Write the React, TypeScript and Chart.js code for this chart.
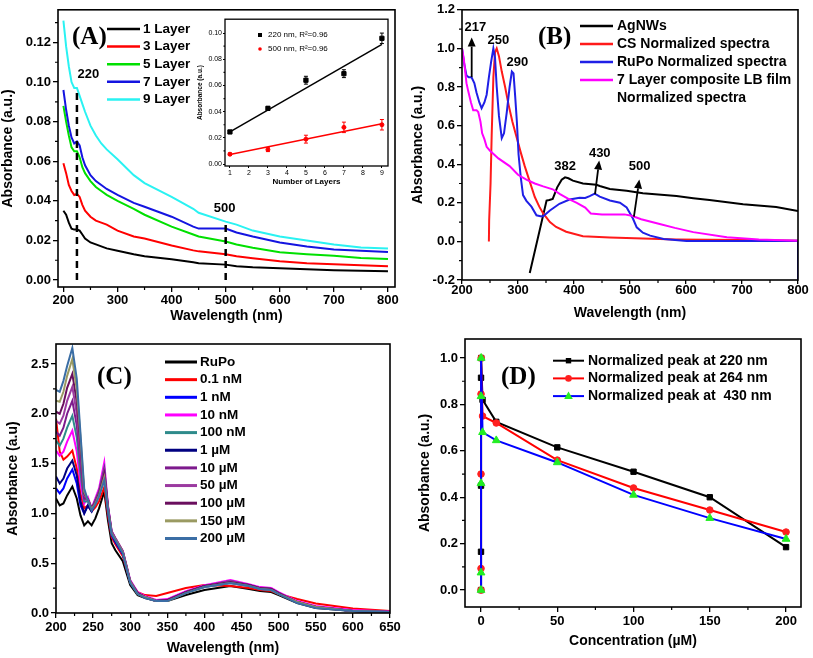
import React, { useEffect, useRef } from 'react';
import { Chart, registerables } from 'chart.js';
Chart.register(...registerables);

const FONT = "'Liberation Sans', Arial, sans-serif";
const SERIF = "'Liberation Serif', 'Times New Roman', serif";

// ---------------- Panel A ----------------
const A_LABELS = ['1 Layer', '3 Layer', '5 Layer', '7 Layer', '9 Layer'];
const A_COLORS = ['#000000', '#ff0000', '#00e000', '#1414e0', '#2af2f2'];
const WL_A = [200, 205, 210, 215, 220, 225, 230, 235, 240, 250, 260, 270, 280, 300, 330, 350, 400, 440, 450, 500, 520, 550, 600, 650, 700, 750, 800];
const A_L1 = [0.035, 0.033, 0.029, 0.026, 0.0255, 0.0255, 0.025, 0.023, 0.021, 0.019, 0.018, 0.017, 0.016, 0.0148, 0.013, 0.012, 0.0105, 0.009, 0.0085, 0.0078, 0.007, 0.0065, 0.006, 0.0055, 0.005, 0.0047, 0.0045];
const A_L3 = [0.059, 0.054, 0.048, 0.045, 0.043, 0.0435, 0.042, 0.038, 0.035, 0.032, 0.030, 0.029, 0.028, 0.025, 0.022, 0.021, 0.0175, 0.015, 0.0145, 0.013, 0.012, 0.011, 0.0095, 0.0085, 0.008, 0.0075, 0.007];
const A_L5 = [0.088, 0.080, 0.073, 0.067, 0.065, 0.065, 0.062, 0.057, 0.054, 0.050, 0.047, 0.045, 0.043, 0.040, 0.036, 0.033, 0.027, 0.023, 0.022, 0.0195, 0.018, 0.0163, 0.014, 0.013, 0.0123, 0.0112, 0.0107];
const A_L7 = [0.096, 0.086, 0.078, 0.072, 0.069, 0.070, 0.068, 0.062, 0.058, 0.053, 0.050, 0.048, 0.046, 0.043, 0.039, 0.037, 0.032, 0.027, 0.026, 0.026, 0.024, 0.022, 0.019, 0.017, 0.0155, 0.0148, 0.0142];
const A_L9 = [0.131, 0.118, 0.108, 0.100, 0.097, 0.097, 0.093, 0.089, 0.085, 0.078, 0.073, 0.069, 0.066, 0.061, 0.053, 0.049, 0.042, 0.036, 0.034, 0.0295, 0.028, 0.025, 0.022, 0.020, 0.018, 0.0165, 0.016];
const A_SERIES = [A_L1, A_L3, A_L5, A_L7, A_L9];
const A_MARK_X = [225, 500];
const A_MARK_TOP = [0.097, 0.029];
const A_NOTE_TEXT = ['220', '500'];
const A_NOTE_X = [246, 498];
const A_NOTE_Y = [0.104, 0.036];
const A_XTICKS = [200, 300, 400, 500, 600, 700, 800];
const A_XMINOR = [250, 350, 450, 550, 650, 750];
const A_YTICKS = [0, 0.02, 0.04, 0.06, 0.08, 0.10, 0.12];
const A_YMINOR = [0.01, 0.03, 0.05, 0.07, 0.09, 0.11, 0.13];

// ---------------- Inset ----------------
const IN_LAYERS = [1, 3, 5, 7, 9];
const IN_220 = [0.0245, 0.0425, 0.064, 0.069, 0.096];
const IN_220_ERR = [0.001, 0.0015, 0.003, 0.003, 0.004];
const IN_500 = [0.0075, 0.011, 0.019, 0.028, 0.030];
const IN_500_ERR = [0.001, 0.0015, 0.003, 0.004, 0.004];
const IN_FIT_X = [1, 9];
const IN_FIT_220 = [0.0245, 0.0914];
const IN_FIT_500 = [0.0073, 0.0308];
const IN_LABELS = ['220 nm, R²=0.96', '500 nm, R²=0.96'];
const IN_XTICKS = [1, 2, 3, 4, 5, 6, 7, 8, 9];
const IN_YTICKS = [0, 0.02, 0.04, 0.06, 0.08, 0.10];
const IN_YMINOR = [0.01, 0.03, 0.05, 0.07, 0.09];

// ---------------- Panel B ----------------
const B_LABELS = ['AgNWs', 'CS Normalized spectra', 'RuPo Normalized spectra', '7 Layer composite LB film', 'Normalized spectra'];
const B_COLORS = ['#000000', '#ff1a1a', '#1f1fe6', '#ff00ff'];
const AG_X = [321, 351, 356, 362, 370, 378, 384, 390, 398, 416, 440, 446, 464, 494, 523, 583, 613, 642, 702, 761, 800];
const AG_Y = [-0.164, 0.212, 0.215, 0.22, 0.28, 0.32, 0.332, 0.327, 0.315, 0.30, 0.293, 0.287, 0.272, 0.262, 0.25, 0.235, 0.224, 0.215, 0.193, 0.178, 0.158];
const CS_X = [248, 248.5, 251, 253, 256, 259, 262, 266, 271, 277, 283, 290, 298, 305, 312, 321, 330, 338, 345, 357, 368, 386, 416, 464, 523, 583, 702, 800];
const CS_Y = [0, 0.11, 0.3, 0.55, 0.85, 0.98, 1.0, 0.96, 0.88, 0.8, 0.71, 0.62, 0.535, 0.46, 0.39, 0.31, 0.23, 0.18, 0.145, 0.1, 0.075, 0.05, 0.027, 0.02, 0.015, 0.01, 0.007, 0.004];
const RU_X = [200, 204, 208, 212, 217, 222, 226, 231, 235, 240, 244, 248, 252, 256, 259, 262, 266, 271, 275, 280, 285, 289, 292, 295, 298, 301, 305, 309, 315, 324, 333, 340, 345, 357, 374, 392, 410, 420, 428, 437, 446, 464, 482, 494, 505, 512, 523, 536, 560, 601, 700, 800, 800];
const RU_Y = [1.0, 0.92, 0.86, 0.85, 0.85, 0.82, 0.77, 0.72, 0.69, 0.72, 0.76, 0.85, 0.93, 1.0, 0.95, 0.80, 0.65, 0.535, 0.56, 0.67, 0.80, 0.88, 0.87, 0.75, 0.62, 0.45, 0.33, 0.24, 0.21, 0.18, 0.135, 0.13, 0.13, 0.16, 0.195, 0.217, 0.226, 0.225, 0.235, 0.248, 0.232, 0.212, 0.2, 0.176, 0.12, 0.073, 0.045, 0.03, 0.012, 0.002, 0.002, 0.003, -0.2];
const LB_X = [200, 203, 205, 208, 211, 216, 220, 226, 229, 233, 236, 240, 244, 250, 265, 285, 300, 315, 330, 345, 362, 375, 390, 405, 420, 430, 450, 470, 490, 503, 520, 553, 580, 613, 673, 730, 800];
const LB_Y = [1.0, 0.95, 0.9, 0.82, 0.78, 0.72, 0.68, 0.68, 0.67, 0.62, 0.56, 0.53, 0.49, 0.47, 0.43, 0.39, 0.345, 0.32, 0.3, 0.285, 0.27, 0.245, 0.22, 0.2, 0.175, 0.145, 0.14, 0.14, 0.14, 0.133, 0.115, 0.09, 0.07, 0.048, 0.022, 0.01, 0.003];
const B_NOTE_TEXT = ['217', '250', '290', '382', '430', '500'];
const B_NOTE_X = [224, 265, 299, 384, 446, 517];
const B_NOTE_Y = [1.108, 1.04, 0.928, 0.39, 0.458, 0.39];
const B_ARROW_X0 = [217.3, 437.5, 507];
const B_ARROW_Y0 = [0.851, 0.245, 0.128];
const B_ARROW_X1 = [217.3, 445, 516.7];
const B_ARROW_Y1 = [1.056, 0.419, 0.321];
const B_XTICKS = [200, 300, 400, 500, 600, 700, 800];
const B_XMINOR = [250, 350, 450, 550, 650, 750];
const B_YTICKS = [-0.2, 0, 0.2, 0.4, 0.6, 0.8, 1.0, 1.2];
const B_YMINOR = [-0.1, 0.1, 0.3, 0.5, 0.7, 0.9, 1.1];

// ---------------- Panel C ----------------
const C_LABELS = ['RuPo', '0.1 nM', '1 nM', '10 nM', '100 nM', '1 µM', '10 µM', '50 µM', '100 µM', '150 µM', '200 µM'];
const C_COLORS = ['#000000', '#ff0000', '#0000ff', '#ff00ff', '#2e8b8b', '#000080', '#7d1a8d', '#9b3aa0', '#6a0f5e', '#9a9a62', '#3b6ea5'];
const WL_C = [200, 205, 210, 215, 222, 228, 233, 238, 243, 248, 253, 258, 265, 270, 275, 280, 290, 295, 300, 310, 320, 335, 350, 375, 400, 435, 460, 475, 490, 500, 525, 550, 600, 650];
const C_RUPO = [1.15, 1.08, 1.10, 1.18, 1.27, 1.15, 0.98, 0.88, 0.92, 0.88, 0.95, 1.05, 1.22, 0.93, 0.70, 0.63, 0.52, 0.40, 0.28, 0.18, 0.15, 0.12, 0.12, 0.18, 0.23, 0.27, 0.24, 0.22, 0.21, 0.18, 0.10, 0.05, 0.02, 0.01];
const C_01NM = [1.95, 1.62, 1.54, 1.57, 1.63, 1.45, 1.20, 1.05, 1.08, 1.02, 1.06, 1.12, 1.26, 0.98, 0.76, 0.69, 0.57, 0.44, 0.31, 0.21, 0.18, 0.17, 0.20, 0.25, 0.28, 0.27, 0.25, 0.23, 0.22, 0.19, 0.14, 0.095, 0.045, 0.02];
const C_1NM = [1.25, 1.20, 1.25, 1.35, 1.44, 1.30, 1.08, 1.00, 1.08, 1.02, 1.10, 1.18, 1.38, 1.02, 0.78, 0.71, 0.59, 0.45, 0.31, 0.20, 0.16, 0.12, 0.13, 0.21, 0.26, 0.30, 0.27, 0.24, 0.23, 0.20, 0.11, 0.06, 0.02, 0.01];
const C_10NM = [1.63, 1.58, 1.62, 1.72, 1.83, 1.62, 1.30, 1.10, 1.16, 1.05, 1.15, 1.25, 1.51, 1.08, 0.82, 0.75, 0.62, 0.48, 0.33, 0.21, 0.17, 0.13, 0.14, 0.22, 0.28, 0.33, 0.29, 0.26, 0.25, 0.21, 0.12, 0.07, 0.03, 0.015];
const C_100NM = [1.73, 1.68, 1.75, 1.86, 1.98, 1.76, 1.40, 1.12, 1.12, 1.04, 1.13, 1.22, 1.45, 1.06, 0.81, 0.74, 0.61, 0.47, 0.32, 0.20, 0.16, 0.12, 0.13, 0.21, 0.27, 0.32, 0.28, 0.25, 0.24, 0.20, 0.11, 0.06, 0.02, 0.01];
const C_1UM = [1.37, 1.30, 1.35, 1.45, 1.53, 1.38, 1.12, 1.00, 1.08, 1.02, 1.10, 1.19, 1.40, 1.04, 0.79, 0.72, 0.60, 0.46, 0.31, 0.20, 0.16, 0.12, 0.13, 0.21, 0.27, 0.31, 0.28, 0.25, 0.24, 0.20, 0.11, 0.06, 0.02, 0.01];
const C_10UM = [1.82, 1.78, 1.86, 2.00, 2.13, 1.88, 1.50, 1.15, 1.14, 1.05, 1.13, 1.22, 1.44, 1.07, 0.82, 0.75, 0.62, 0.47, 0.32, 0.20, 0.16, 0.12, 0.13, 0.21, 0.27, 0.32, 0.28, 0.25, 0.24, 0.20, 0.11, 0.06, 0.02, 0.01];
const C_50UM = [1.93, 1.90, 1.98, 2.13, 2.27, 2.00, 1.60, 1.18, 1.14, 1.05, 1.12, 1.21, 1.42, 1.06, 0.81, 0.75, 0.62, 0.47, 0.32, 0.20, 0.16, 0.12, 0.13, 0.21, 0.27, 0.32, 0.28, 0.25, 0.24, 0.20, 0.11, 0.06, 0.02, 0.01];
const C_100UM = [2.02, 2.00, 2.10, 2.26, 2.40, 2.12, 1.68, 1.20, 1.14, 1.05, 1.11, 1.20, 1.40, 1.05, 0.80, 0.74, 0.61, 0.46, 0.31, 0.20, 0.16, 0.12, 0.13, 0.21, 0.27, 0.31, 0.28, 0.25, 0.24, 0.20, 0.11, 0.06, 0.02, 0.01];
const C_150UM = [2.13, 2.12, 2.22, 2.38, 2.55, 2.24, 1.76, 1.22, 1.13, 1.04, 1.10, 1.18, 1.36, 1.04, 0.80, 0.74, 0.61, 0.46, 0.31, 0.19, 0.16, 0.12, 0.12, 0.20, 0.26, 0.30, 0.27, 0.24, 0.23, 0.19, 0.11, 0.06, 0.02, 0.01];
const C_200UM = [2.24, 2.22, 2.33, 2.48, 2.66, 2.35, 1.80, 1.25, 1.13, 1.03, 1.09, 1.17, 1.33, 1.03, 0.79, 0.73, 0.60, 0.45, 0.30, 0.19, 0.15, 0.12, 0.12, 0.20, 0.26, 0.30, 0.27, 0.24, 0.23, 0.19, 0.10, 0.05, 0.02, 0.01];
const C_SERIES = [C_RUPO, C_01NM, C_1NM, C_10NM, C_100NM, C_1UM, C_10UM, C_50UM, C_100UM, C_150UM, C_200UM];
const C_XTICKS = [200, 250, 300, 350, 400, 450, 500, 550, 600, 650];
const C_XMINOR = [225, 275, 325, 375, 425, 475, 525, 575, 625];
const C_YTICKS = [0, 0.5, 1.0, 1.5, 2.0, 2.5];
const C_YMINOR = [0.25, 0.75, 1.25, 1.75, 2.25];

// ---------------- Panel D ----------------
const D_LABELS = ['Normalized peak at 220 nm', 'Normalized peak at 264 nm', 'Normalized peak at  430 nm'];
const D_CONC = [0, 0.0001, 0.001, 0.01, 0.1, 1, 10, 50, 100, 150, 200];
const D_220 = [0, 0.165, 0.45, 0.915, 1.0, 0.82, 0.725, 0.615, 0.51, 0.40, 0.185];
const D_264 = [0, 0.093, 0.5, 0.845, 1.0, 0.75, 0.72, 0.56, 0.44, 0.345, 0.25];
const D_430 = [0, 0.075, 0.46, 0.835, 1.0, 0.68, 0.645, 0.55, 0.41, 0.31, 0.22];
const D_XTICKS = [0, 50, 100, 150, 200];
const D_XMINOR = [25, 75, 125, 175];
const D_YTICKS = [0, 0.2, 0.4, 0.6, 0.8, 1.0];
const D_YMINOR = [0.1, 0.3, 0.5, 0.7, 0.9];

// ---------------- helpers ----------------
const pts = (xs: number[], ys: number[]) => xs.map((x, i) => ({ x, y: ys[i] }));

function line(label: string, xs: number[], ys: number[], color: string, width = 2, extra: any = {}) {
  return { label, data: pts(xs, ys), borderColor: color, backgroundColor: color, borderWidth: width, pointRadius: 0, tension: 0, fill: false, ...extra };
}

// later datasets are drawn on top (as in the original figure)
const stackOrder = (ds: any[]) => ds.map((d, i) => ({ ...d, order: -i }));

function mkScale(o: any) {
  return {
    type: 'linear',
    position: o.axis === 'x' ? 'bottom' : 'left',
    min: o.min,
    max: o.max,
    afterBuildTicks: (s: any) => { s.ticks = o.ticks.map((v: number) => ({ value: v })); },
    afterFit: (s: any) => { if (o.axis === 'x') s.height = o.size; else s.width = o.size; },
    ticks: {
      autoSkip: false, maxRotation: 0, minRotation: 0, padding: o.pad ?? 2, color: '#000',
      font: { family: FONT, size: o.fs ?? 13, weight: o.tw ?? 'bold' },
      callback: (v: any) => o.fmt(Number(v)),
    },
    grid: { display: true, drawOnChartArea: false, drawTicks: true, tickLength: o.tl ?? 5, color: '#000', lineWidth: o.glw ?? 1.3 },
    border: { display: false },
    title: { display: true, text: o.title, color: '#000', font: { family: FONT, size: o.ts ?? 14, weight: 'bold' }, padding: 0 },
  };
}

function txt(ctx: CanvasRenderingContext2D, s: string, x: number, y: number, font: string, align: CanvasTextAlign = 'left', color = '#000') {
  ctx.font = font; ctx.fillStyle = color; ctx.textAlign = align; ctx.textBaseline = 'middle'; ctx.fillText(s, x, y);
}

function framePlugin(xMinor: number[], yMinor: number[], extra?: (chart: any, ctx: CanvasRenderingContext2D) => void, lw = 1.6, ml = 3) {
  return {
    id: 'frame',
    afterDraw(chart: any) {
      const ctx: CanvasRenderingContext2D = chart.ctx;
      const a = chart.chartArea;
      const xs = chart.scales.x, ys = chart.scales.y;
      ctx.save();
      ctx.strokeStyle = '#000';
      ctx.lineWidth = lw;
      ctx.strokeRect(a.left, a.top, a.right - a.left, a.bottom - a.top);
      ctx.lineWidth = 1.2;
      ctx.beginPath();
      xMinor.forEach(v => { const px = xs.getPixelForValue(v); ctx.moveTo(px, a.bottom); ctx.lineTo(px, a.bottom + ml); });
      yMinor.forEach(v => { const py = ys.getPixelForValue(v); ctx.moveTo(a.left, py); ctx.lineTo(a.left - ml, py); });
      ctx.stroke();
      ctx.restore();
      if (extra) { ctx.save(); extra(chart, ctx); ctx.restore(); }
    },
  };
}

function baseConfig(datasets: any[], scales: any, padding: any, plugins: any[]) {
  return {
    type: 'line',
    data: { datasets: stackOrder(datasets) },
    options: {
      responsive: false, animation: false, events: [],
      layout: { padding },
      plugins: { legend: { display: false }, tooltip: { enabled: false } },
      scales,
    },
    plugins,
  };
}

function legendLines(ctx: CanvasRenderingContext2D, labels: string[], colors: string[], x1: number, x2: number, tx: number, y0: number, dy: number, font: string, lw = 2.5) {
  labels.forEach((lab, i) => {
    const y = y0 + i * dy;
    if (colors[i]) {
      ctx.strokeStyle = colors[i]; ctx.lineWidth = lw; ctx.setLineDash([]);
      ctx.beginPath(); ctx.moveTo(x1, y); ctx.lineTo(x2, y); ctx.stroke();
    }
    txt(ctx, lab, tx, y, font);
  });
}

function drawArrow(ctx: CanvasRenderingContext2D, x0: number, y0: number, x1: number, y1: number) {
  const ang = Math.atan2(y1 - y0, x1 - x0);
  const hl = 9, hw = 4;
  const bx = x1 - hl * Math.cos(ang), by = y1 - hl * Math.sin(ang);
  ctx.strokeStyle = '#000'; ctx.fillStyle = '#000'; ctx.lineWidth = 1.8;
  ctx.beginPath(); ctx.moveTo(x0, y0); ctx.lineTo(bx, by); ctx.stroke();
  ctx.beginPath();
  ctx.moveTo(x1, y1);
  ctx.lineTo(bx + hw * Math.sin(ang), by - hw * Math.cos(ang));
  ctx.lineTo(bx - hw * Math.sin(ang), by + hw * Math.cos(ang));
  ctx.closePath(); ctx.fill();
}

const LEG = `bold 14px ${FONT}`;

// ---------------- configs ----------------
function cfgA() {
  const ds: any[] = A_SERIES.map((s, i) => line(A_LABELS[i], WL_A, s, A_COLORS[i], 2));
  A_MARK_X.forEach((x, i) => ds.push(line('', [x, x], [0, A_MARK_TOP[i]], '#000', 2.5, { borderDash: [7, 5] })));
  const extra = (chart: any, ctx: CanvasRenderingContext2D) => {
    const xs = chart.scales.x, ys = chart.scales.y;
    legendLines(ctx, A_LABELS, A_COLORS, 107, 140, 143, 29, 17.6, `bold 13.5px ${FONT}`);
    txt(ctx, '(A)', 72, 38, `bold 25px ${SERIF}`);
    A_NOTE_TEXT.forEach((t, i) => txt(ctx, t, xs.getPixelForValue(A_NOTE_X[i]), ys.getPixelForValue(A_NOTE_Y[i]), `bold 13px ${FONT}`, 'center'));
  };
  return baseConfig(ds, {
    x: mkScale({ axis: 'x', min: 190, max: 813, ticks: A_XTICKS, fmt: (v: number) => String(v), title: 'Wavelength (nm)', size: 38, pad: 1 }),
    y: mkScale({ axis: 'y', min: -0.0035, max: 0.1365, ticks: A_YTICKS, fmt: (v: number) => v.toFixed(2), title: 'Absorbance (a.u.)', size: 58 }),
  }, { left: 0, top: 7, right: 15, bottom: 0 }, [framePlugin(A_XMINOR, A_YMINOR, extra)]);
}

function cfgInset() {
  const ds: any[] = [
    line('fit220', IN_FIT_X, IN_FIT_220, '#000', 1.5),
    line('fit500', IN_FIT_X, IN_FIT_500, '#ff0000', 1.5),
    { label: '220', data: pts(IN_LAYERS, IN_220), showLine: false, pointStyle: 'rect', pointRadius: 3, pointBackgroundColor: '#000', pointBorderColor: '#000', borderColor: '#000' },
    { label: '500', data: pts(IN_LAYERS, IN_500), showLine: false, pointStyle: 'circle', pointRadius: 2, pointBackgroundColor: '#ff0000', pointBorderColor: '#ff0000', borderColor: '#ff0000' },
  ];
  const extra = (chart: any, ctx: CanvasRenderingContext2D) => {
    const xs = chart.scales.x, ys = chart.scales.y;
    const bars = [[IN_220, IN_220_ERR, '#000'], [IN_500, IN_500_ERR, '#ff0000']] as [number[], number[], string][];
    bars.forEach(([vals, errs, col]) => {
      ctx.strokeStyle = col; ctx.lineWidth = 1;
      IN_LAYERS.forEach((l, i) => {
        const px = xs.getPixelForValue(l);
        const pt = ys.getPixelForValue(vals[i] + errs[i]);
        const pb = ys.getPixelForValue(vals[i] - errs[i]);
        ctx.beginPath();
        ctx.moveTo(px, pt); ctx.lineTo(px, pb);
        ctx.moveTo(px - 2, pt); ctx.lineTo(px + 2, pt);
        ctx.moveTo(px - 2, pb); ctx.lineTo(px + 2, pb);
        ctx.stroke();
      });
    });
    ctx.fillStyle = '#000'; ctx.fillRect(68, 19, 4, 4);
    ctx.fillStyle = '#ff0000'; ctx.beginPath(); ctx.arc(70, 35, 1.8, 0, Math.PI * 2); ctx.fill();
    txt(ctx, IN_LABELS[0], 78, 21, `8px ${FONT}`);
    txt(ctx, IN_LABELS[1], 78, 35, `8px ${FONT}`);
  };
  return baseConfig(ds, {
    x: mkScale({ axis: 'x', min: 0.74, max: 9.32, ticks: IN_XTICKS, fmt: (v: number) => String(v), title: 'Number of Layers', size: 21, fs: 7, tw: 'normal', ts: 8, tl: 2, pad: 1, glw: 1 }),
    y: mkScale({ axis: 'y', min: -0.0015, max: 0.1106, ticks: IN_YTICKS, fmt: (v: number) => v.toFixed(2), title: 'Absorbance (a.u.)', size: 29, fs: 7, tw: 'normal', ts: 6.5, tl: 2, pad: 1, glw: 1 }),
  }, { left: 6, top: 4, right: 7, bottom: 2 }, [framePlugin([], IN_YMINOR, extra, 1.3, 1.5)]);
}

function cfgB() {
  const ds: any[] = [
    line(B_LABELS[0], AG_X, AG_Y, B_COLORS[0], 2),
    line(B_LABELS[1], CS_X, CS_Y, B_COLORS[1], 2),
    line(B_LABELS[2], RU_X, RU_Y, B_COLORS[2], 2),
    line(B_LABELS[3], LB_X, LB_Y, B_COLORS[3], 2),
  ];
  const extra = (chart: any, ctx: CanvasRenderingContext2D) => {
    const xs = chart.scales.x, ys = chart.scales.y;
    legendLines(ctx, B_LABELS, [...B_COLORS, ''], 170, 203, 207, 26, 18, LEG);
    txt(ctx, '(B)', 128, 38, `bold 25px ${SERIF}`);
    B_NOTE_TEXT.forEach((t, i) => txt(ctx, t, xs.getPixelForValue(B_NOTE_X[i]), ys.getPixelForValue(B_NOTE_Y[i]), `bold 13px ${FONT}`, 'center'));
    B_ARROW_X0.forEach((x0, i) => drawArrow(ctx, xs.getPixelForValue(x0), ys.getPixelForValue(B_ARROW_Y0[i]), xs.getPixelForValue(B_ARROW_X1[i]), ys.getPixelForValue(B_ARROW_Y1[i])));
  };
  return baseConfig(ds, {
    x: mkScale({ axis: 'x', min: 200, max: 800, ticks: B_XTICKS, fmt: (v: number) => String(v), title: 'Wavelength (nm)', size: 42, tl: 4, pad: -1 }),
    y: mkScale({ axis: 'y', min: -0.2, max: 1.2, ticks: B_YTICKS, fmt: (v: number) => v.toFixed(1), title: 'Absorbance (a.u.)', size: 52 }),
  }, { left: 0, top: 7, right: 15, bottom: 0 }, [framePlugin(B_XMINOR, B_YMINOR, extra)]);
}

function cfgC() {
  const ds: any[] = C_SERIES.map((s, i) => line(C_LABELS[i], WL_C, s, C_COLORS[i], 2));
  const extra = (_chart: any, ctx: CanvasRenderingContext2D) => {
    legendLines(ctx, C_LABELS, C_COLORS, 165, 197, 200, 37, 17.65, `bold 13.5px ${FONT}`, 3);
    txt(ctx, '(C)', 97, 53, `bold 25px ${SERIF}`);
  };
  return baseConfig(ds, {
    x: mkScale({ axis: 'x', min: 200, max: 650, ticks: C_XTICKS, fmt: (v: number) => String(v), title: 'Wavelength (nm)', size: 44 }),
    y: mkScale({ axis: 'y', min: 0, max: 2.7, ticks: C_YTICKS, fmt: (v: number) => v.toFixed(1), title: 'Absorbance (a.u)', size: 51 }),
  }, { left: 5, top: 19, right: 20, bottom: 1 }, [framePlugin(C_XMINOR, C_YMINOR, extra)]);
}

function cfgD() {
  const ds: any[] = [
    line(D_LABELS[0], D_CONC, D_220, '#000000', 2, { pointStyle: 'rect', pointRadius: 3.8, pointBackgroundColor: '#000', pointBorderColor: '#000', pointBorderWidth: 1 }),
    line(D_LABELS[1], D_CONC, D_264, '#ff0000', 2, { pointStyle: 'circle', pointRadius: 3.3, pointBackgroundColor: '#ff2020', pointBorderColor: '#ff2020', pointBorderWidth: 1 }),
    line(D_LABELS[2], D_CONC, D_430, '#0000ff', 2, { pointStyle: 'triangle', pointRadius: 4.5, pointBackgroundColor: '#22ee22', pointBorderColor: '#22ee22', pointBorderWidth: 1 }),
  ];
  const extra = (_chart: any, ctx: CanvasRenderingContext2D) => {
    const cols = ['#000000', '#ff0000', '#0000ff'];
    legendLines(ctx, D_LABELS, cols, 143, 174, 178, 35.7, 17.7, LEG, 2);
    const mx = 158.5;
    ctx.fillStyle = '#000'; ctx.fillRect(mx - 2.7, 35.7 - 2.7, 5.4, 5.4);
    ctx.fillStyle = '#ff2020'; ctx.beginPath(); ctx.arc(mx, 53.4, 3.3, 0, Math.PI * 2); ctx.fill();
    ctx.fillStyle = '#22ee22'; ctx.beginPath(); ctx.moveTo(mx, 71.1 - 4.5); ctx.lineTo(mx + 4.3, 71.1 + 3); ctx.lineTo(mx - 4.3, 71.1 + 3); ctx.closePath(); ctx.fill();
    txt(ctx, '(D)', 91, 53, `bold 25px ${SERIF}`);
  };
  return baseConfig(ds, {
    x: mkScale({ axis: 'x', min: -10.5, max: 209.8, ticks: D_XTICKS, fmt: (v: number) => String(v), title: 'Concentration (µM)', size: 43 }),
    y: mkScale({ axis: 'y', min: -0.073, max: 1.082, ticks: D_YTICKS, fmt: (v: number) => v.toFixed(1), title: 'Absorbance (a.u.)', size: 48 }),
  }, { left: 7, top: 14, right: 12, bottom: 8 }, [framePlugin(D_XMINOR, D_YMINOR, extra)]);
}

function ChartBox({ left, top, width, height, make }: { left: number; top: number; width: number; height: number; make: () => any }) {
  const ref = useRef<HTMLCanvasElement>(null);
  useEffect(() => {
    const c = new Chart(ref.current as HTMLCanvasElement, make());
    return () => c.destroy();
  }, []);
  return <canvas ref={ref} width={width} height={height} style={{ position: 'absolute', left, top, width, height }} />;
}

export default function App() {
  return (
    <div style={{ position: 'fixed', left: 0, top: 0, width: 813, height: 658, background: '#fff', overflow: 'hidden' }}>
      <ChartBox left={0} top={0} width={410} height={325} make={cfgA} />
      <ChartBox left={190} top={14} width={205} height={175} make={cfgInset} />
      <ChartBox left={410} top={0} width={403} height={322} make={cfgB} />
      <ChartBox left={0} top={325} width={410} height={333} make={cfgC} />
      <ChartBox left={410} top={325} width={403} height={333} make={cfgD} />
    </div>
  );
}
